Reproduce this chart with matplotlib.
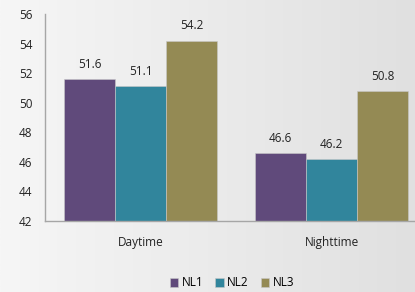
import numpy as np
import matplotlib
matplotlib.use('Agg')
import matplotlib.pyplot as plt

# Data
categories = ['Daytime', 'Nighttime']
series = ['NL1', 'NL2', 'NL3']
nl1 = [51.6, 46.6]
nl2 = [51.1, 46.2]
nl3 = [54.2, 50.8]
colors = ['#604a7b', '#31859c', '#948a54']

plt.rcParams['font.family'] = ['Open Sans', 'DejaVu Sans']

fig = plt.figure(figsize=(4.15, 2.92), dpi=100)

# background gradient
bg = fig.add_axes([0, 0, 1, 1], zorder=-10)
grad = np.linspace(0, 1, 256).reshape(1, -1)
bg.imshow(grad, aspect='auto', cmap=matplotlib.colors.LinearSegmentedColormap.from_list(
    'g', ['#f6f6f6', '#e0e0e0']), extent=[0, 1, 0, 1])
bg.axis('off')

ax = fig.add_axes([45 / 415, 1 - 221 / 292, 382 / 415, 207 / 292])
ax.patch.set_alpha(0)

x = np.arange(len(categories))
w = 0.267
for i, (vals, c) in enumerate(zip([nl1, nl2, nl3], colors)):
    xs = x + (i - 1) * w
    ax.bar(xs, vals, width=w, color=c, label=series[i], edgecolor='#c8c8c8', linewidth=0.4)
    for xi, v in zip(xs, vals):
        ax.text(xi, v + 0.55, f'{v:.1f}', ha='center', va='bottom', fontsize=8.5, color='#222222')

ax.set_xlim(-0.5, 1.5)
ax.set_ylim(42, 56)
ax.set_yticks(np.arange(42, 57, 2))
ax.set_xticks(x)
ax.set_xticklabels(categories)
ax.tick_params(axis='both', length=0, labelsize=8.5, colors='#222222')
ax.tick_params(axis='x', pad=11)
ax.tick_params(axis='y', pad=9)
for s in ['top', 'right']:
    ax.spines[s].set_visible(False)
for s in ['left', 'bottom']:
    ax.spines[s].set_color('#a6a6a6')
    ax.spines[s].set_linewidth(1.0)

leg = fig.legend(loc='center', bbox_to_anchor=(232 / 415, 1 - 283 / 292), ncol=3,
                 frameon=False, fontsize=8.5, handlelength=0.7, handleheight=0.7,
                 handletextpad=0.3, columnspacing=1.0)

fig.savefig('out.png', dpi=100)
